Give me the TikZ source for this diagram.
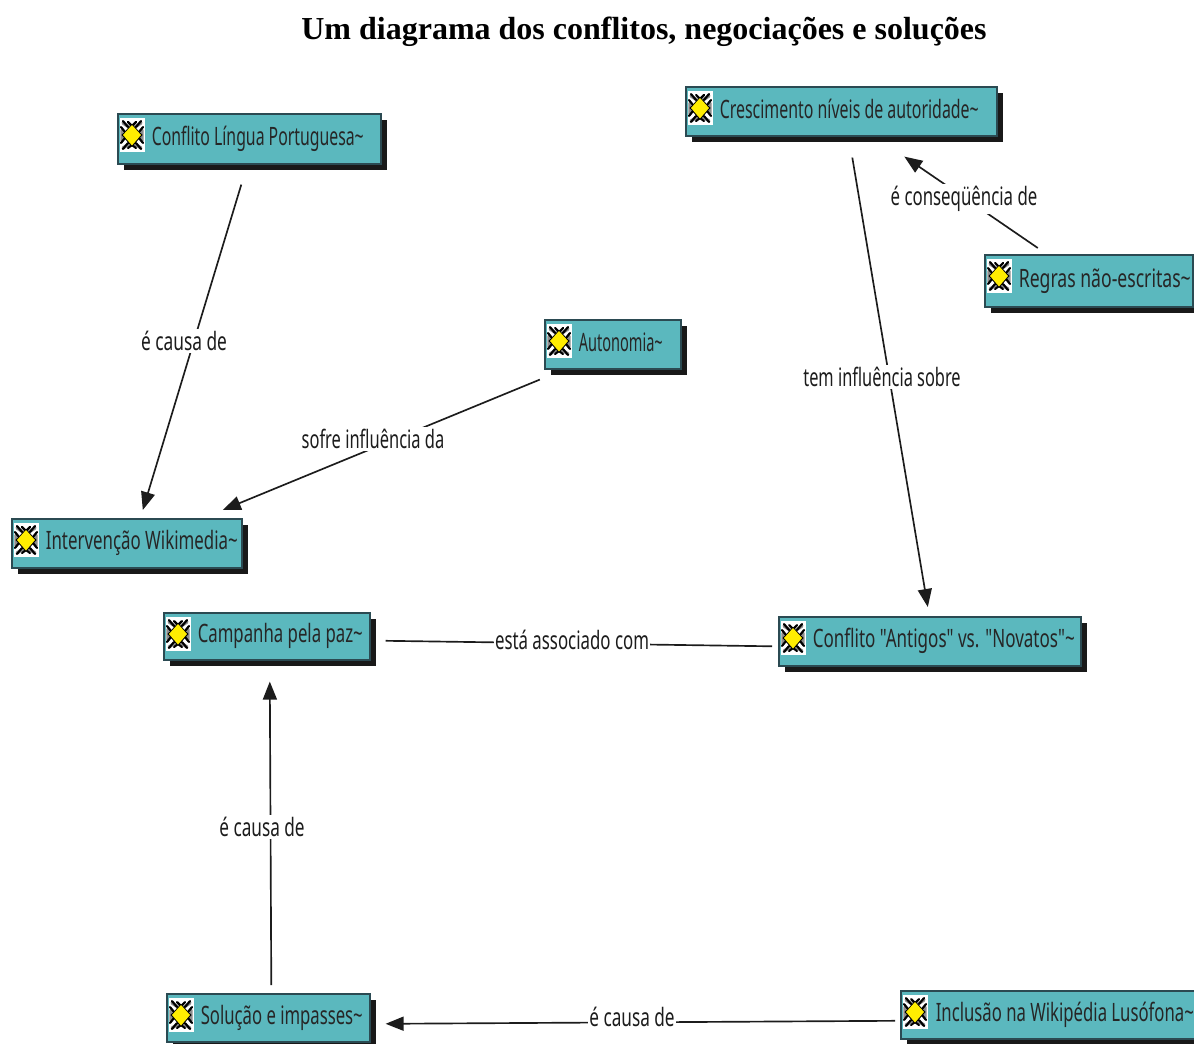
\documentclass[tikz,border=0pt]{standalone}
\usepackage{fontspec}
\usepackage{graphicx}
\setmainfont{Liberation Serif}
\newfontfamily\cmapfont{Noto Sans}
\usetikzlibrary{arrows.meta}
\definecolor{boxfill}{HTML}{5BB8BE}
\definecolor{boxedge}{HTML}{2B4A52}
\definecolor{lineink}{HTML}{1C1C1C}
\tikzset{
  cbox/.style={draw=boxedge,line width=1.2pt,fill=boxfill,inner sep=0pt,anchor=north west},
  cshadow/.style={fill=black!90,draw=none},
  clabel/.style={fill=white,inner xsep=0.75pt,inner ysep=1.5pt,text=lineink,font=\cmapfont\fontsize{19}{22}\selectfont},
  conn/.style={draw=lineink,line width=1.25pt},
  arrowed/.style={conn,-{Triangle[length=13.5pt,width=10.5pt]}},
  titletext/.style={font=\fontsize{24}{28}\selectfont\bfseries,inner sep=0pt}
}
% name, x0, y0, x1, y1, text, text left px, text width px
\newcommand{\cmapbox}[8]{%
  \fill[cshadow] (#2+7,#3+7) rectangle (#4+7,#5+7);
  \pgfmathsetlengthmacro{\cboxw}{(#4-#2)*0.75pt}
  \pgfmathsetlengthmacro{\cboxh}{(#5-#3)*0.75pt}
  \pgfmathsetlengthmacro{\cboxp}{(#7-#2)*0.75pt}
  \pgfmathsetlengthmacro{\cboxt}{(#8)*0.75pt}
  \node[cbox,minimum width=\cboxw,minimum height=\cboxh,text=black!85] (#1) at (#2,#3)
    {\makebox[\cboxw][l]{\hspace{\cboxp}\raisebox{3pt}{\resizebox{\cboxt}{\height}{\cmapfont\fontsize{19}{22}\selectfont #6}}}};
  \begin{scope}[shift={(#2+15,#3+22)}]
    \fill[white] (-12.5,-17) rectangle (12.5,17);
    \draw[black!45,line width=2.4pt,line cap=round]
      (-9,-12) -- (0,-6) -- (9,-12) (-9,13) -- (0,7) -- (9,13)
      (-10,-5) -- (-10,6) (10,-5) -- (10,6);
    \draw[black,line width=1.6pt,line cap=round]
      (-9,-14) -- (-4,-8) (9,-14) -- (4,-8)
      (-9,14) -- (-4,8) (9,14) -- (4,8)
      (-11,-8) -- (-7,-3) (11,-8) -- (7,-3)
      (-11,8) -- (-7,3) (11,8) -- (7,3)
      (-4,-13) -- (0,-9) -- (4,-13) (-4,13) -- (0,10) -- (4,13);
    \fill[black] (0,-11) -- (10.5,0) -- (0,12) -- (-10.5,0) -- cycle;
    \fill[yellow!95!orange] (0,-10) -- (9,0) -- (0,10.5) -- (-9,0) -- cycle;
  \end{scope}
}
\begin{document}
\begin{tikzpicture}[x=0.75pt,y=-0.75pt]
\useasboundingbox (0,0) rectangle (1194,1044);
\clip (0,0) rectangle (1194,1044);
\node[titletext] (title) at (644,32) {Um diagrama dos conflitos, negociações e soluções};

\cmapbox{lingua}{117}{113}{380}{163}{Conflito Língua Portuguesa\textasciitilde}{151}{212}
\cmapbox{cresc}{685}{86}{996}{135}{Crescimento níveis de autoridade\textasciitilde}{719}{259}
\cmapbox{regras}{984}{254}{1192}{306}{Regras não-escritas\textasciitilde}{1018}{172}
\cmapbox{auton}{544}{319}{680}{368}{Autonomia\textasciitilde}{578}{84}
\cmapbox{interv}{11}{518}{241}{567}{Intervenção Wikimedia\textasciitilde}{45}{192}
\cmapbox{campanha}{163}{612}{369}{659}{Campanha pela paz\textasciitilde}{197}{165}
\cmapbox{antigos}{778}{616}{1080}{665}{Conflito "Antigos" vs. "Novatos"\textasciitilde}{812}{262}
\cmapbox{solucao}{166}{993}{369}{1041}{Solução e impasses\textasciitilde}{200}{162}
\cmapbox{inclusao}{900}{990}{1215}{1038}{Inclusão na Wikipédia Lusófona\textasciitilde}{935}{258}

% connectors: end points are offsets from the box anchors
\draw[arrowed] ([shift={(-8,20)}]lingua.south) -- ([shift={(16,-8)}]interv.north);
\draw[arrowed] ([shift={(-73,10)}]auton.south) -- ([shift={(96,-8)}]interv.north);
\draw[arrowed] ([shift={(11,21)}]cresc.south) -- ([shift={(-2,-9)}]antigos.north);
\draw[arrowed] ([shift={(-51,-6)}]regras.north) -- ([shift={(63,20)}]cresc.south);
\draw[conn] ([shift={(15,4.5)}]campanha.east) -- ([shift={(-6,5)}]antigos.west);
\draw[arrowed] ([shift={(3,-8)}]solucao.north) -- ([shift={(3,21)}]campanha.south);
\draw[arrowed] ([shift={(-5,6)}]inclusao.west) -- ([shift={(15,6)}]solucao.east);

\node[clabel] (l1) at (184,341) {\resizebox{64.5pt}{\height}{é causa de}};
\node[clabel] (l2) at (373,439) {\resizebox{107pt}{\height}{sofre influência da}};
\node[clabel] (l3) at (882,377) {\resizebox{118pt}{\height}{tem influência sobre}};
\node[clabel] (l4) at (964,199) {\resizebox{110pt}{\height}{é conseqüência de}};
\node[clabel] (l5) at (572,640) {\resizebox{115.5pt}{\height}{está associado com}};
\node[clabel] (l6) at (262,827) {\resizebox{64pt}{\height}{é causa de}};
\node[clabel] (l7) at (632,1017) {\resizebox{64pt}{\height}{é causa de}};
\end{tikzpicture}
\end{document}
